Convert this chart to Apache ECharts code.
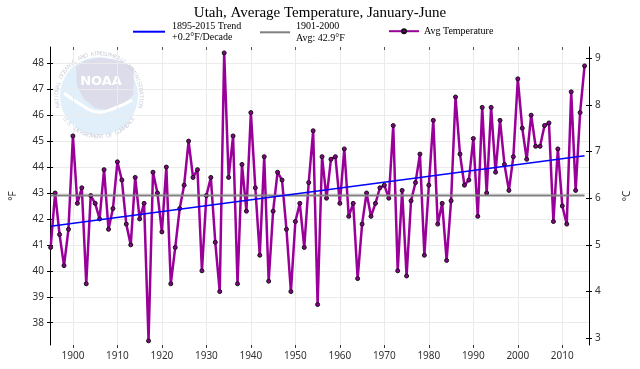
<!DOCTYPE html>
<html><head><meta charset="utf-8">
<script src="https://cdn.jsdelivr.net/npm/echarts@6/dist/echarts.min.js"></script>
<style>html,body{margin:0;padding:0;background:#fff}#c{width:640px;height:369px}</style>
</head><body><div id="c"></div>
<script>
const years = [1895,1896,1897,1898,1899,1900,1901,1902,1903,1904,1905,1906,1907,1908,1909,1910,1911,1912,1913,1914,1915,1916,1917,1918,1919,1920,1921,1922,1923,1924,1925,1926,1927,1928,1929,1930,1931,1932,1933,1934,1935,1936,1937,1938,1939,1940,1941,1942,1943,1944,1945,1946,1947,1948,1949,1950,1951,1952,1953,1954,1955,1956,1957,1958,1959,1960,1961,1962,1963,1964,1965,1966,1967,1968,1969,1970,1971,1972,1973,1974,1975,1976,1977,1978,1979,1980,1981,1982,1983,1984,1985,1986,1987,1988,1989,1990,1991,1992,1993,1994,1995,1996,1997,1998,1999,2000,2001,2002,2003,2004,2005,2006,2007,2008,2009,2010,2011,2012,2013,2014,2015];
const avgTemp = [40.9,43.0,41.4,40.2,41.6,45.2,42.6,43.2,39.5,42.9,42.6,42.0,43.9,41.6,42.4,44.2,43.5,41.8,41.0,43.6,42.0,42.6,37.3,43.8,43.0,41.5,44.0,39.5,40.9,42.4,43.3,45.0,43.6,43.9,40.0,42.9,43.6,41.1,39.2,48.4,43.6,45.2,39.5,44.1,42.3,46.1,43.2,40.6,44.4,39.6,42.3,43.8,43.5,41.6,39.2,41.9,42.6,40.9,43.4,45.4,38.7,44.4,42.8,44.3,44.4,42.6,44.7,42.1,42.6,39.7,41.8,43.0,42.1,42.6,43.2,43.3,42.8,45.6,40.0,43.1,39.8,42.7,43.4,44.5,40.6,43.3,45.8,41.8,42.6,40.4,42.7,46.7,44.5,43.3,43.5,45.1,42.1,46.3,43.0,46.3,43.8,45.8,44.1,43.1,44.4,47.4,45.5,44.3,46.0,44.8,44.8,45.6,45.7,41.9,44.7,42.5,41.8,46.9,43.1,46.1,47.9];
const trendYears = [1895, 2015];
const trendValues = [41.72, 44.44];
const normalYears = [1895, 2015];
const normalValues = [42.9, 42.9];
const xTicks = [1900,1910,1920,1930,1940,1950,1960,1970,1980,1990,2000,2010];
const fTicks = [38,39,40,41,42,43,44,45,46,47,48];
const cTicks = [3,4,5,6,7,8,9];

const fMin = 37.14, fMax = 48.628;
const cMin = (fMin - 32) / 1.8, cMax = (fMax - 32) / 1.8;

const zip = (a, b) => a.map((v, i) => [v, b[i]]);

// NOAA watermark
const cx = 99, cy = 96;
const logo = [];
logo.push({type:'circle', shape:{cx:cx, cy:cy, r:39}, style:{fill:'#e0eff9'}, z:-10});
logo.push({type:'polygon', shape:{points:[[76,67],[86,60],[99,58],[112,59],[124,62],[133,68],[134,80],[133,95],[124,104],[108,110],[95,108],[84,99],[77,86]]}, style:{fill:'#dcdcea'}, z:-9});
logo.push({type:'polyline', shape:{points:[[64,93],[80,104],[97,112],[115,108],[132,100]], smooth:0.5}, style:{stroke:'#ffffff', lineWidth:3, fill:null}, z:-8});
logo.push({type:'text', x:101, y:82, style:{text:'NOAA', fill:'#ffffff', font:'bold 13px "DejaVu Sans", sans-serif', align:'center', verticalAlign:'middle'}, z:-8});
function ringText(str, a0, a1, r, bottom) {
  const n = str.length;
  for (let i = 0; i < n; i++) {
    const deg = a0 + (a1 - a0) * (i + 0.5) / n;
    const phi = deg * Math.PI / 180;
    const x = cx + r * Math.cos(phi), y = cy - r * Math.sin(phi);
    const rot = bottom ? phi - 1.5 * Math.PI : phi - Math.PI / 2;
    logo.push({type:'text', x:x, y:y, rotation:rot, style:{text:str[i], fill:'#cdd0dc', font:'5.5px "DejaVu Sans", sans-serif', align:'center', verticalAlign:'middle'}, z:-8});
  }
}
ringText('NATIONAL OCEANIC AND ATMOSPHERIC ADMINISTRATION', 196, -16, 42, false);
ringText('U.S. DEPARTMENT OF COMMERCE', 212, 328, 41, true);

const axisFont = '"Noto Sans", "Open Sans", sans-serif';
const serif = '"Liberation Serif", "Times New Roman", serif';

const chart = echarts.init(document.getElementById('c'));
chart.setOption({
  animation: false,
  backgroundColor: '#fff',
  title: {text: 'Utah, Average Temperature, January-June', left: 'center', top: 1,
    textStyle: {fontFamily: serif, fontSize: 15, fontWeight: 'normal', color: '#000'}},
  legend: [
    {data: [{name: '1895-2015 Trend', icon: 'rect'}], left: 133, top: 20.2, itemWidth: 32, itemHeight: 2, padding: 0,
      formatter: n => n + '\n+0.2°F/Decade',
      textStyle: {fontFamily: serif, fontSize: 10, lineHeight: 11.5, color: '#000', padding: [0,0,0,2]}},
    {data: [{name: '1901-2000', icon: 'rect'}], left: 260, top: 20.8, itemWidth: 30, itemHeight: 2, padding: 0,
      formatter: n => n + '\nAvg: 42.9°F',
      textStyle: {fontFamily: serif, fontSize: 10, lineHeight: 11.5, color: '#000', padding: [0,0,0,1]}},
    {data: ['Avg Temperature'], left: 388, top: 26.2, itemWidth: 30, itemHeight: 5, padding: 0,
      textStyle: {fontFamily: serif, fontSize: 10, color: '#000', padding: [0,0,0,0]}}
  ],
  graphic: {elements: logo},
  grid: {left: 44, right: 47, top: 47, bottom: 24, containLabel: false},
  xAxis: [
    {type: 'value', min: 1894.85, max: 2016, position: 'bottom',
      axisLine: {show: false},
      axisTick: {show: true, customValues: xTicks, length: 3, lineStyle: {color: '#333'}},
      axisLabel: {customValues: xTicks, formatter: v => String(v), fontFamily: axisFont, fontSize: 10, color: '#333', margin: 6},
      splitLine: {show: true, lineStyle: {color: '#ebebeb', width: 1}}},
    {type: 'value', min: 1894.85, max: 2016, position: 'top',
      axisLine: {show: false},
      axisTick: {show: true, inside: true, customValues: xTicks, length: 3, lineStyle: {color: '#555'}},
      axisLabel: {show: false}, splitLine: {show: false}}
  ],
  yAxis: [
    {type: 'value', min: fMin, max: fMax, position: 'left',
      name: '°F', nameLocation: 'middle', nameGap: 32,
      nameTextStyle: {fontFamily: axisFont, fontSize: 10, color: '#333'},
      axisLine: {show: true, lineStyle: {color: '#000', width: 1}},
      axisTick: {show: true, customValues: fTicks, length: 3, lineStyle: {color: '#000'}},
      axisLabel: {customValues: fTicks, formatter: v => String(v), fontFamily: axisFont, fontSize: 10, color: '#333', margin: 6},
      splitLine: {show: true, lineStyle: {color: '#ebebeb', width: 1}}},
    {type: 'value', min: cMin, max: cMax, position: 'right',
      name: '°C', nameLocation: 'middle', nameGap: 33,
      nameTextStyle: {fontFamily: axisFont, fontSize: 10, color: '#333'},
      axisLine: {show: true, lineStyle: {color: '#000', width: 1}},
      axisTick: {show: true, customValues: cTicks, length: 3, lineStyle: {color: '#000'}},
      axisLabel: {customValues: cTicks, formatter: v => String(v), fontFamily: axisFont, fontSize: 10, color: '#333', margin: 6},
      splitLine: {show: false}},
    {type: 'value', min: fMin, max: fMax, position: 'left', offset: 0,
      axisLine: {show: false},
      axisTick: {show: true, inside: true, customValues: fTicks, length: 3, lineStyle: {color: '#000'}},
      axisLabel: {show: false}, splitLine: {show: false}},
    {type: 'value', min: cMin, max: cMax, position: 'right', offset: 0,
      axisLine: {show: false},
      axisTick: {show: true, inside: true, customValues: cTicks, length: 3, lineStyle: {color: '#000'}},
      axisLabel: {show: false}, splitLine: {show: false}}
  ],
  series: [
    {name: 'Avg Temperature', type: 'line', data: zip(years, avgTemp), z: 2,
      symbol: 'circle', symbolSize: 4,
      lineStyle: {color: '#990099', width: 2.5},
      itemStyle: {color: '#8a008a', borderColor: '#111', borderWidth: 1}},
    {name: '1901-2000', type: 'line', data: zip(normalYears, normalValues), z: 3,
      symbol: 'none', lineStyle: {color: '#808080', width: 2}, itemStyle: {color: '#808080'}},
    {name: '1895-2015 Trend', type: 'line', data: zip(trendYears, trendValues), z: 4,
      symbol: 'none', lineStyle: {color: '#0000ff', width: 1.5}, itemStyle: {color: '#0000ff'}}
  ]
});
</script>
</body></html>
